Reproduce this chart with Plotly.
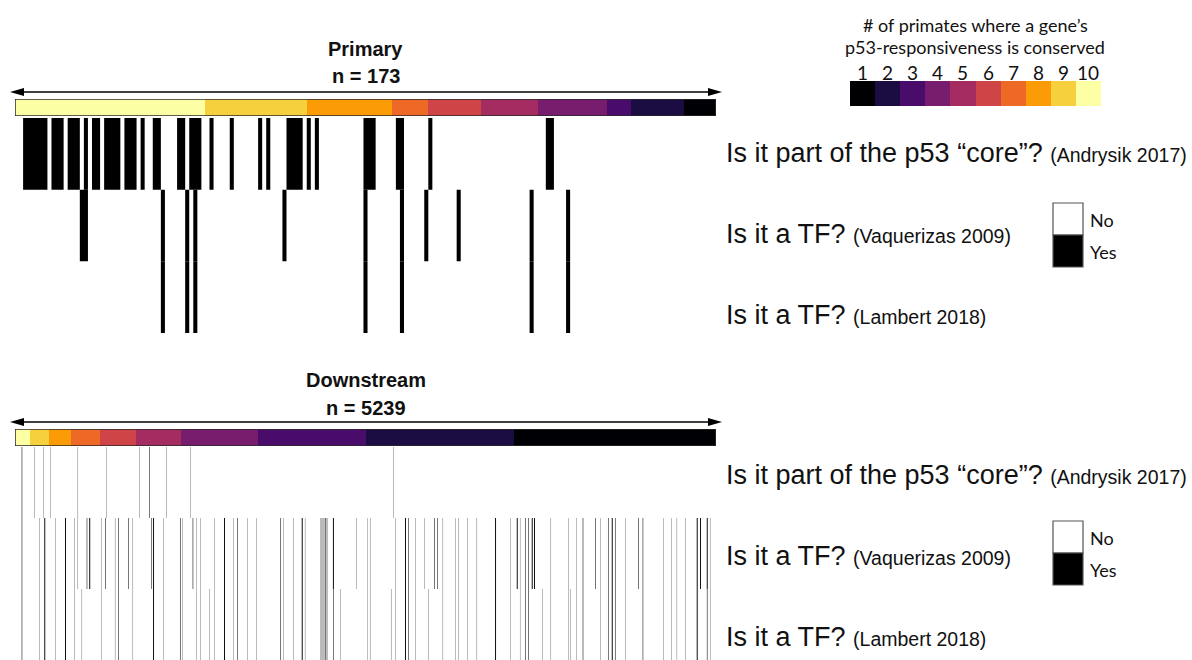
import plotly.graph_objects as go

W, H = 1192, 660

# ---------------------------------------------------------------- data
levels = [1, 2, 3, 4, 5, 6, 7, 8, 9, 10]
level_colors = ["#000004", "#1b0c41", "#4a0c6b", "#781c6d", "#a52c60",
                "#cf4446", "#ed6925", "#fb9b06", "#f7d13d", "#fcffa4"]

# number of genes at each conservation level (1..10)
primary_counts = [8, 13, 6, 17, 14, 13, 9, 21, 25, 47]
downstream_counts = [1510, 1106, 805, 578, 336, 269, 217, 164, 142, 112]

# ranks (0 = most conserved) of genes flagged "yes" in each annotation
primary_core = [2, 3, 4, 5, 6, 7, 9, 10, 11, 13, 14, 15, 17, 19, 20, 22, 23, 24, 25,
                27, 28, 29, 31, 34, 35, 40, 41, 43, 44, 45, 48, 53, 60, 62,
                67, 68, 69, 70, 72, 74, 86, 87, 88, 94, 95, 102, 131, 132]
primary_tf_vaquerizas = [16, 17, 36, 42, 44, 66, 86, 95, 101, 109, 127, 136]
primary_tf_lambert = [36, 42, 44, 86, 95, 127, 136]

# downstream genes as (first rank, number of consecutive flagged genes)
downstream_core_runs = [(50, 4), (144, 2), (212, 2), (267, 2), (469, 2), (685, 2),
                        (929, 2), (1003, 4), (1134, 2), (1313, 2), (2827, 2)]
downstream_tf_both_runs = [
    (50, 4), (182, 2), (219, 7), (299, 2), (374, 7), (441, 2), (648, 2), (747, 2),
    (772, 4), (880, 2), (1032, 7), (1108, 2), (1233, 4), (1253, 2), (1358, 2),
    (1383, 2), (1490, 2), (1562, 7), (1632, 2), (1661, 4), (1736, 2), (1806, 2),
    (1981, 4), (2005, 2), (2080, 2), (2143, 7), (2167, 2), (2282, 2), (2290, 2),
    (2298, 2), (2305, 2), (2312, 2), (2317, 4), (2328, 2), (2336, 2), (2633, 2),
    (2653, 2), (2845, 2), (2915, 7), (2940, 4), (2990, 2), (3197, 2), (3289, 2),
    (3313, 2), (3381, 2), (3451, 2), (3588, 7), (3700, 2), (3774, 2), (3812, 4),
    (3836, 4), (4004, 2), (4135, 2), (4198, 2), (4243, 4), (4377, 2), (4434, 4),
    (4460, 7), (4484, 4), (4559, 2), (4691, 4), (4845, 2), (4908, 2), (4946, 2),
    (5008, 2), (5095, 7), (5194, 2)]
downstream_tf_vaquerizas_only_runs = [
    (469, 2), (536, 4), (555, 7), (673, 4), (847, 4), (1020, 4), (1328, 4),
    (2376, 7), (2554, 2), (3057, 2), (3132, 4), (3156, 4), (3750, 7), (3862, 7),
    (3879, 7), (4335, 4), (4659, 4), (5120, 7), (5170, 7)]
downstream_tf_lambert_only_runs = [
    (499, 2), (1452, 2), (2378, 4), (2429, 2), (2810, 2), (3089, 2), (3944, 2),
    (4153, 2), (5171, 4)]

row_questions = ["Is it part of the p53 \u201ccore\u201d?", "Is it a TF?", "Is it a TF?"]
row_sources = ["(Andrysik 2017)", "(Vaquerizas 2009)", "(Lambert 2018)"]

# ---------------------------------------------------------------- helpers
def fx(p):
    return p / W


def fy(p):
    return 1 - p / H


def ranked_levels(counts):
    """Per-gene conservation level, most conserved first."""
    out = []
    for lvl, c in sorted(zip(levels, counts), reverse=True):
        out += [lvl] * c
    return out


def expand(run_list):
    out = set()
    for start, length in run_list:
        out.update(range(start, start + length))
    return sorted(out)


def runs(idx):
    idx = sorted(idx)
    out = []
    start = prev = idx[0]
    for i in idx[1:]:
        if i == prev + 1:
            prev = i
            continue
        out.append((start, prev + 1))
        start = prev = i
    out.append((start, prev + 1))
    return out


def gene_marks(idx, row, xa, ya):
    xs, ys = [], []
    lo, hi = -row - 1, -row
    for a, b in runs(idx):
        xs += [a, b, b, a, a, None]
        ys += [lo, lo, hi, hi, lo, None]
    return go.Scatter(x=xs, y=ys, xaxis=xa, yaxis=ya, mode="lines",
                      fill="toself", fillcolor="black",
                      line=dict(width=0, color="black", simplify=False),
                      hoverinfo="skip", showlegend=False)


downstream_core = expand(downstream_core_runs)
downstream_tf_vaquerizas = expand(downstream_tf_both_runs + downstream_tf_vaquerizas_only_runs)
downstream_tf_lambert = expand(downstream_tf_both_runs + downstream_tf_lambert_only_runs)

discrete_scale = []
for k, c in enumerate(level_colors):
    discrete_scale += [[k / 10, c], [(k + 1) / 10, c]]

TEXT_FONT = "Liberation Sans, Arial, sans-serif"
KEY_FONT = "Lato, Open Sans, sans-serif"

panels = [
    dict(name="Primary", counts=primary_counts,
         rows=[primary_core, primary_tf_vaquerizas, primary_tf_lambert],
         xa="x", ya_rows="y", ya_bar="y2",
         title_y=(49, 76), arrow_y=92, bar=(99, 116), rows_px=(118, 333),
         label_mid=[153, 234, 315], key_top=203),
    dict(name="Downstream", counts=downstream_counts,
         rows=[downstream_core, downstream_tf_vaquerizas, downstream_tf_lambert],
         xa="x2", ya_rows="y3", ya_bar="y4",
         title_y=(380, 408), arrow_y=422, bar=(429, 446), rows_px=(447, 660),
         label_mid=[475, 556, 637], key_top=521),
]

X_LEFT, X_RIGHT = 15, 716

fig = go.Figure()
shapes, annotations = [], []
layout_axes = {}

for p in panels:
    ranked = ranked_levels(p["counts"])
    n = len(ranked)
    xa, yr, yb = p["xa"], p["ya_rows"], p["ya_bar"]
    xkey = "xaxis" + xa[1:]
    yrkey = "yaxis" + yr[1:]
    ybkey = "yaxis" + yb[1:]

    layout_axes[xkey] = dict(domain=[fx(X_LEFT), fx(X_RIGHT)], range=[0, n],
                             visible=False, anchor=yr, fixedrange=True)
    layout_axes[yrkey] = dict(domain=[fy(p["rows_px"][1]), fy(p["rows_px"][0])],
                              range=[-3, 0], visible=False, anchor=xa)
    layout_axes[ybkey] = dict(domain=[fy(p["bar"][1]), fy(p["bar"][0])],
                              range=[0, 1], visible=False, anchor=xa)

    # conservation colour strip
    fig.add_trace(go.Heatmap(z=[ranked], x0=0.5, dx=1, y0=0.5, dy=1,
                             zmin=0.5, zmax=10.5, colorscale=discrete_scale,
                             showscale=False, hoverinfo="skip",
                             xaxis=xa, yaxis=yb))
    shapes.append(dict(type="rect", xref=xa, yref=yb, x0=0, x1=n, y0=0, y1=1,
                       line=dict(color="#2a2a2a", width=1.5)))

    # yes/no annotation rows
    for r, idx in enumerate(p["rows"]):
        fig.add_trace(gene_marks(idx, r, xa, yr))

    # double-headed arrow above the strip
    ay = p["arrow_y"]
    shapes.append(dict(type="line", xref="paper", yref="paper",
                       x0=fx(20), x1=fx(712), y0=fy(ay), y1=fy(ay),
                       line=dict(color="black", width=1.6)))
    for tip, base in [(10, 24), (722, 708)]:
        shapes.append(dict(type="path", xref="paper", yref="paper",
                           path=f"M{fx(tip)},{fy(ay)} L{fx(base)},{fy(ay - 4)} "
                                f"L{fx(base)},{fy(ay + 4)} Z",
                           fillcolor="black", line=dict(width=0)))

    # panel titles
    for txt, yy in [(p["name"], p["title_y"][0]), (f"n = {n}", p["title_y"][1])]:
        annotations.append(dict(text=f"<b>{txt}</b>", x=fx(365.5), y=fy(yy),
                                xref="paper", yref="paper", showarrow=False,
                                xanchor="center", yanchor="middle",
                                font=dict(family=TEXT_FONT, size=20, color="#111")))

    # row questions
    for q, s, mid in zip(row_questions, row_sources, p["label_mid"]):
        annotations.append(dict(
            text=f"{q} <span style='font-size:19.5px'>{s}</span>",
            x=fx(724), y=fy(mid), xref="paper", yref="paper",
            showarrow=False, xanchor="left", yanchor="middle",
            font=dict(family=TEXT_FONT, size=27, color="#111")))

    # no / yes key
    kt = p["key_top"]
    shapes.append(dict(type="rect", xref="paper", yref="paper",
                       x0=fx(1053), x1=fx(1083), y0=fy(kt + 32), y1=fy(kt),
                       fillcolor="white", line=dict(color="#555", width=1.2)))
    shapes.append(dict(type="rect", xref="paper", yref="paper",
                       x0=fx(1053), x1=fx(1083), y0=fy(kt + 64), y1=fy(kt + 32),
                       fillcolor="black", line=dict(color="#555", width=1.2)))
    for txt, yy in [("No", kt + 17), ("Yes", kt + 49)]:
        annotations.append(dict(text=txt, x=fx(1088), y=fy(yy), xref="paper",
                                yref="paper", showarrow=False, xanchor="left",
                                yanchor="middle",
                                font=dict(family=KEY_FONT, size=18, color="#111")))

# conservation colour key
fig.add_trace(go.Heatmap(z=[levels], x0=1, dx=1, y0=0.5, dy=1,
                         zmin=0.5, zmax=10.5, colorscale=discrete_scale,
                         showscale=False, hoverinfo="skip",
                         xaxis="x3", yaxis="y5"))
layout_axes["xaxis3"] = dict(domain=[fx(850), fx(1101)], range=[0.5, 10.5],
                             anchor="y5", visible=False)
layout_axes["yaxis5"] = dict(domain=[fy(106), fy(81)], range=[0, 1],
                             visible=False, anchor="x3")
for v in levels:
    annotations.append(dict(text=str(v), x=v, y=fy(72), xref="x3", yref="paper",
                            showarrow=False, xanchor="center", yanchor="middle",
                            font=dict(family=KEY_FONT, size=19, color="#111")))
for txt, yy in [("# of primates where a gene\u2019s", 25),
                ("p53-responsiveness is conserved", 47)]:
    annotations.append(dict(text=txt, x=fx(975), y=fy(yy), xref="paper",
                            yref="paper", showarrow=False, xanchor="center",
                            yanchor="middle",
                            font=dict(family=KEY_FONT, size=18, color="#111")))

fig.update_layout(width=W, height=H, margin=dict(l=0, r=0, t=0, b=0),
                  paper_bgcolor="white", plot_bgcolor="white",
                  shapes=shapes, annotations=annotations, showlegend=False,
                  **layout_axes)

fig.write_html("out.html")
